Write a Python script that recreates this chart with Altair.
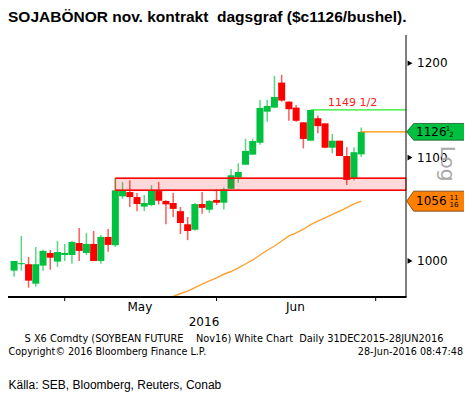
import altair as alt
import pandas as pd

# ---------------- data ----------------
idx = list(range(49))
opens = [991.1, 997.0, 997.0, 979.3, 995.7, 1007.4, 999.4, 1005.5, 1005.5, 1016.7,
         1007.4, 1015.8, 1000.0, 1022.4, 1014.6, 1061.4, 1065.6, 1060.7, 1051.4, 1052.9,
         1066.6, 1056.9, 1054.9, 1047.0, 1034.4, 1029.2, 1053.9, 1048.4, 1057.9, 1055.2,
         1068.8, 1080.0, 1092.8, 1103.0, 1115.2, 1147.6, 1151.9, 1178.8, 1158.3, 1151.9,
         1136.4, 1117.3, 1140.7, 1135.3, 1110.1, 1117.3, 1101.6, 1078.5, 1103.3]
highs = [1000.0, 1023.3, 1003.7, 1013.0, 1010.5, 1010.2, 1018.6, 1015.8, 1018.6, 1030.9,
         1026.1, 1028.0, 1024.2, 1029.9, 1079.2, 1075.5, 1077.3, 1064.6, 1062.7, 1072.3,
         1075.5, 1057.5, 1064.6, 1051.1, 1041.4, 1054.9, 1065.6, 1057.9, 1068.2, 1070.2,
         1088.6, 1094.3, 1119.4, 1119.4, 1160.1, 1160.4, 1186.2, 1187.3, 1158.3, 1154.8,
         1136.4, 1149.5, 1143.6, 1135.3, 1124.3, 1117.3, 1110.5, 1110.5, 1130.9]
lows = [985.6, 991.1, 975.7, 976.6, 991.1, 992.0, 994.5, 1000.0, 997.5, 1000.0,
        1005.5, 1000.0, 997.5, 1008.6, 1013.0, 1059.0, 1051.1, 1047.0, 1047.0, 1051.8,
        1053.6, 1034.4, 1041.4, 1025.2, 1019.4, 1028.6, 1044.4, 1045.4, 1052.9, 1048.6,
        1068.8, 1074.8, 1092.8, 1103.0, 1113.0, 1137.0, 1151.2, 1158.3, 1138.0, 1137.0,
        1109.4, 1117.3, 1125.0, 1109.5, 1104.4, 1101.6, 1072.6, 1076.9, 1100.6]
closes = [1000.0, 998.0, 982.0, 997.0, 1009.3, 1003.0, 1008.3, 1007.4, 1017.7, 1009.3,
          1015.8, 1000.0, 1022.4, 1014.9, 1067.3, 1067.3, 1060.7, 1053.9, 1054.9, 1067.3,
          1057.1, 1053.6, 1049.2, 1035.6, 1028.0, 1053.9, 1050.2, 1056.9, 1055.2, 1068.2,
          1082.2, 1085.5, 1106.8, 1117.0, 1151.6, 1153.7, 1163.3, 1159.4, 1150.2, 1138.0,
          1119.1, 1149.4, 1132.4, 1110.1, 1117.3, 1101.6, 1077.6, 1105.5, 1126.5]

ma_idx = list(range(21, 49))
ma_vals = [965.5, 967.8, 970.4, 972.5, 975.8, 978.8, 981.8, 984.6, 987.8, 990.3,
           993.6, 997.2, 1000.9, 1005.5, 1009.9, 1013.9, 1018.6, 1023.3, 1026.2, 1029.7,
           1034.0, 1037.4, 1040.6, 1044.0, 1046.9, 1050.5, 1054.0, 1056.7]

y_ticks = [1000, 1100, 1200]
y_tick_labels = ["1000", "1100", "1200"]
x_ticks = [7, 28, 50]
month_labels = ["May", "Jun"]
month_pos = [17.4, 38.9]

resist_level = 1149.5
resist_start = 41
resist_label = "1149 1/2"
box_top, box_bottom, box_start = 1079.2, 1067.3, 14
last_close = 1126.5
last_idx = 48
ma_last = 1056.6875

title_text = "SOJABÖNOR nov. kontrakt\u00a0 dagsgraf ($c1126/bushel)."
year_text = "2016"
bb_line1 = "S X6 Comdty (SOYBEAN FUTURE\u00a0\u00a0\u00a0 Nov16) White Chart\u00a0 Daily 31DEC2015-28JUN2016"
bb_line2 = "Copyright\u00a9 2016 Bloomberg Finance L.P."
bb_stamp = "28-Jun-2016 08:47:48"
source_text = "Källa: SEB, Bloomberg, Reuters, Conab"

# ---------------- chart ----------------
W, H = 398, 262
df = pd.DataFrame({"i": idx, "open": opens, "high": highs, "low": lows, "close": closes})
df["dir"] = ["up" if c >= o else "down" for o, c in zip(opens, closes)]

xscale = alt.Scale(domain=[-0.15, 53.5], nice=False, zero=False)
yscale = alt.Scale(type="log", domain=[967.3, 1231.7], nice=False, zero=False)
color = alt.Color("dir:N", scale=alt.Scale(domain=["up", "down"], range=["#00c040", "#ff0000"]), legend=None)


def X(f):
    return alt.X(f, scale=xscale, axis=None)


def Y(f):
    return alt.Y(f, scale=yscale, axis=None)


wicks = alt.Chart(df).mark_rule(strokeWidth=1.5, opacity=0.65).encode(
    x=X("i:Q"), y=Y("low:Q"), y2="high:Q", color=color)
bodies = alt.Chart(df).mark_bar(size=7).encode(
    x=X("i:Q"), y=Y("open:Q"), y2="close:Q", color=color)

ma = alt.Chart(pd.DataFrame({"i": ma_idx, "v": ma_vals})).mark_line(
    color="#ffa030", strokeWidth=1.4, clip=True).encode(x=X("i:Q"), y=Y("v:Q"))

box_df = pd.DataFrame({"i": [box_start], "top": [box_top], "bot": [box_bottom]})
box = alt.Chart(box_df).mark_rect(fill="#ff0000", fillOpacity=0.15, stroke="#ff0000",
                                  strokeOpacity=0.45, strokeWidth=1.5).encode(
    x=X("i:Q"), x2=alt.value(W), y=Y("top:Q"), y2="bot:Q")
box_top_line = alt.Chart(box_df).mark_rule(color="#ff0000", strokeWidth=1.5).encode(
    x=X("i:Q"), x2=alt.value(W), y=Y("top:Q"))
box_bot_line = alt.Chart(box_df).mark_rule(color="#ff0000", strokeWidth=1.5).encode(
    x=X("i:Q"), x2=alt.value(W), y=Y("bot:Q"))

res_df = pd.DataFrame({"i": [resist_start], "v": [resist_level], "t": [resist_label]})
res_line = alt.Chart(res_df).mark_rule(color="#22ee22", strokeWidth=1.2).encode(
    x=X("i:Q"), x2=alt.value(W), y=Y("v:Q"))
res_text = alt.Chart(res_df).mark_text(align="left", baseline="alphabetic", dy=-4, fontSize=11,
                                       font="DejaVu Sans", color="#ff2020").encode(
    x=alt.value(320), y=Y("v:Q"), text="t:N")

last_df = pd.DataFrame({"i": [last_idx], "v": [last_close]})
last_line = alt.Chart(last_df).mark_rule(color="#ff8c00", strokeWidth=1.2).encode(
    x=X("i:Q"), x2=alt.value(W), y=Y("v:Q"))

# axes drawn by hand
axis_r = alt.Chart(pd.DataFrame({"a": [0]})).mark_rule(color="black", strokeWidth=1).encode(
    x=alt.value(W), y=alt.value(0), y2=alt.value(H))
axis_b = alt.Chart(pd.DataFrame({"a": [0]})).mark_rule(color="black", strokeWidth=2).encode(
    x=alt.value(0), x2=alt.value(W + 0.5), y=alt.value(H))
xt = alt.Chart(pd.DataFrame({"i": x_ticks})).mark_rule(color="black", strokeWidth=1).encode(
    x=X("i:Q"), y=alt.value(H), y2=alt.value(H + 4))
yt_df = pd.DataFrame({"v": y_ticks, "t": y_tick_labels})
tri = alt.Chart(yt_df).mark_point(
    shape="triangle-right", filled=True, color="black", opacity=1, size=32).encode(
    x=alt.value(W + 4), y=Y("v:Q"))
ylab = alt.Chart(yt_df).mark_text(align="left", baseline="middle", fontSize=12,
                                  font="DejaVu Sans", color="black").encode(
    x=alt.value(W + 11), y=Y("v:Q"), text="t:N")

tag_df = pd.DataFrame({"v": [last_close, ma_last], "c": ["g", "o"],
                       "main": ["1126", "1056"]})
green_tag = alt.Chart(tag_df[tag_df.c == "g"]).mark_point(
    shape="M-1,0L-0.77,-0.276L1,-0.276L1,0.276L-0.77,0.276Z", filled=True, fill="#00c040",
    stroke="#1d5a2a", strokeWidth=0.8, opacity=1, size=3672).encode(
    x=alt.value(W + 31), y=Y("v:Q"))
orange_tag = alt.Chart(tag_df[tag_df.c == "o"]).mark_point(
    shape="M-1,0L-0.77,-0.33L1,-0.33L1,0.33L-0.77,0.33Z", filled=True, fill="#ff8000",
    stroke="#6a3a10", strokeWidth=0.8, opacity=1, size=3672).encode(
    x=alt.value(W + 31), y=Y("v:Q"))
tag_text = alt.Chart(tag_df).mark_text(align="left", baseline="middle", fontSize=12,
                                       font="DejaVu Sans", color="black").encode(
    x=alt.value(W + 10), y=Y("v:Q"), text="main:N")

frac_df = pd.DataFrame({"v": [last_close, last_close, ma_last, ma_last],
                        "t": ["1", "2", "11", "16"],
                        "dx": [W + 42, W + 45.5, W + 48, W + 48],
                        "dy": [-3, 3, -3.5, 3.5]})
frac_layers = []
for _, r in frac_df.iterrows():
    frac_layers.append(
        alt.Chart(pd.DataFrame({"v": [r.v], "t": [r.t]})).mark_text(
            align="center", baseline="middle", fontSize=7, font="DejaVu Sans",
            color="black", dy=float(r.dy)).encode(
            x=alt.value(float(r.dx)), y=Y("v:Q"), text="t:N"))

log_text = alt.Chart(pd.DataFrame({"t": ["Log"]})).mark_text(
    angle=90, align="center", baseline="middle", fontSize=20, font="DejaVu Sans",
    color="#a8a8a8").encode(x=alt.value(W + 40.5), y=alt.value(128.5), text="t:N")

months = alt.Chart(pd.DataFrame({"i": month_pos, "t": month_labels})).mark_text(
    baseline="middle", fontSize=12, font="DejaVu Sans", color="black").encode(
    x=X("i:Q"), y=alt.value(H + 10), text="t:N")


def txt(s, x, y, size, align="left", font="DejaVu Sans", weight="normal", color="black",
        baseline="middle"):
    return alt.Chart(pd.DataFrame({"t": [s]})).mark_text(
        align=align, baseline=baseline, fontSize=size, font=font, fontWeight=weight,
        color=color).encode(x=alt.value(x), y=alt.value(y), text="t:N")


title = txt(title_text, 0, -13, 15.5, font="Liberation Sans", weight="bold",
            baseline="alphabetic")
year = txt(year_text, 196, H + 25, 12, align="center")
l1 = txt(bb_line1, 226, H + 42.3, 9.8, align="center")
l2 = txt(bb_line2, 0.5, H + 54.7, 9.6)
l3 = txt(bb_stamp, W + 57, H + 54.7, 9.6, align="right")
src = txt(source_text, 0.5, H + 88, 12, font="Liberation Sans")

chart = alt.layer(
    wicks, bodies, ma, box, box_top_line, box_bot_line, res_line, res_text, last_line,
    axis_r, axis_b, xt, tri, ylab,
    green_tag, orange_tag, tag_text, *frac_layers, log_text, months,
    title, year, l1, l2, l3, src,
).properties(
    width=W, height=H,
    autosize=alt.AutoSizeParams(type="none"),
    padding={"left": 0, "top": 27, "right": 58, "bottom": 97},
    background="white",
).configure_view(stroke=None)

chart.save("out.html", embed_options={"renderer": "svg", "actions": False})
